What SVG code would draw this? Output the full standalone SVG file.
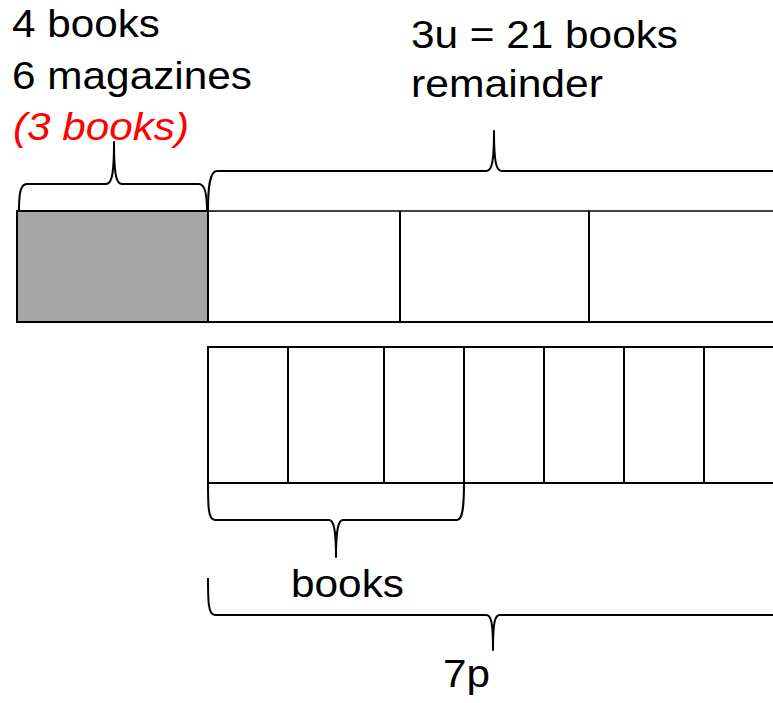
<svg xmlns="http://www.w3.org/2000/svg" width="773" height="703" viewBox="0 0 773 703">
  <style>
    .t { font-family: "Liberation Sans", Arial, sans-serif; font-size: 39.5px; fill: #000; }
    .red { fill: #ff0000; font-style: italic; }
    .ln { stroke: #000; stroke-width: 2; fill: none; }
    .thin { stroke: #000; stroke-width: 1.4; fill: none; }
    .brace { stroke: #000; stroke-width: 2; fill: none; stroke-linejoin: round; }
  </style>
  <rect width="773" height="703" fill="#fff"/>

  <!-- top bar: shaded part plus remainder split into three units -->
  <g id="shaded-part">
    <rect x="17" y="211" width="191" height="111" fill="#a6a6a6" stroke="#000" stroke-width="2"/>
  </g>
  <g id="remainder-bar">
    <line class="thin" x1="208" y1="211" x2="773" y2="211"/>
    <line class="ln" x1="208" y1="322" x2="773" y2="322"/>
    <line class="ln" x1="400" y1="211" x2="400" y2="322"/>
    <line class="ln" x1="589" y1="211" x2="589" y2="322"/>
  </g>

  <!-- lower bar: seven parts -->
  <g id="parts-bar">
    <line class="ln" x1="207" y1="347" x2="773" y2="347"/>
    <line class="ln" x1="207" y1="483" x2="773" y2="483"/>
    <line class="ln" x1="208" y1="347" x2="208" y2="483"/>
    <line class="ln" x1="288" y1="347" x2="288" y2="483"/>
    <line class="ln" x1="384" y1="347" x2="384" y2="483"/>
    <line class="ln" x1="464" y1="347" x2="464" y2="483"/>
    <line class="ln" x1="544" y1="347" x2="544" y2="483"/>
    <line class="ln" x1="624" y1="347" x2="624" y2="483"/>
    <line class="ln" x1="704" y1="347" x2="704" y2="483"/>
  </g>

  <!-- braces -->
  <g id="braces">
    <path class="brace" d="M19,211 C19,195 20,184 27,184 L106,184 C111,184 114,178 114,142 C114,178 117,184 122,184 L199,184 C205,184 207,195 207,211"/>
    <path class="brace" d="M208,211 C208,190 209,171 217,171 L486,171 C491,171 494,166 494,131 C494,166 497,171 502,171 L773,171"/>
    <path class="brace" d="M208,483 C208,505 208,520 215,520 L329,520 C333,520 336,526 336,557 C336,526 339,520 343,520 L457,520 C463,520 464,505 464,483"/>
    <path class="brace" d="M208,578 C208,600 208,615 215,615 L486,615 C491,615 493,621 493,650 C493,621 495,615 500,615 L773,615"/>
  </g>

  <!-- labels -->
  <g id="label-shaded">
    <text class="t" x="12" y="37" textLength="148" lengthAdjust="spacingAndGlyphs">4 books</text>
    <text class="t" x="12" y="89" textLength="240" lengthAdjust="spacingAndGlyphs">6 magazines</text>
    <text class="t red" x="13" y="140" textLength="176" lengthAdjust="spacingAndGlyphs">(3 books)</text>
  </g>
  <g id="label-remainder">
    <text class="t" x="411" y="48" textLength="267" lengthAdjust="spacingAndGlyphs">3u = 21 books</text>
    <text class="t" x="411" y="97" textLength="192" lengthAdjust="spacingAndGlyphs">remainder</text>
  </g>
  <g id="label-books">
    <text class="t" x="291" y="597" textLength="113" lengthAdjust="spacingAndGlyphs">books</text>
  </g>
  <g id="label-7p">
    <text class="t" x="443" y="687" textLength="47" lengthAdjust="spacingAndGlyphs">7p</text>
  </g>
</svg>
